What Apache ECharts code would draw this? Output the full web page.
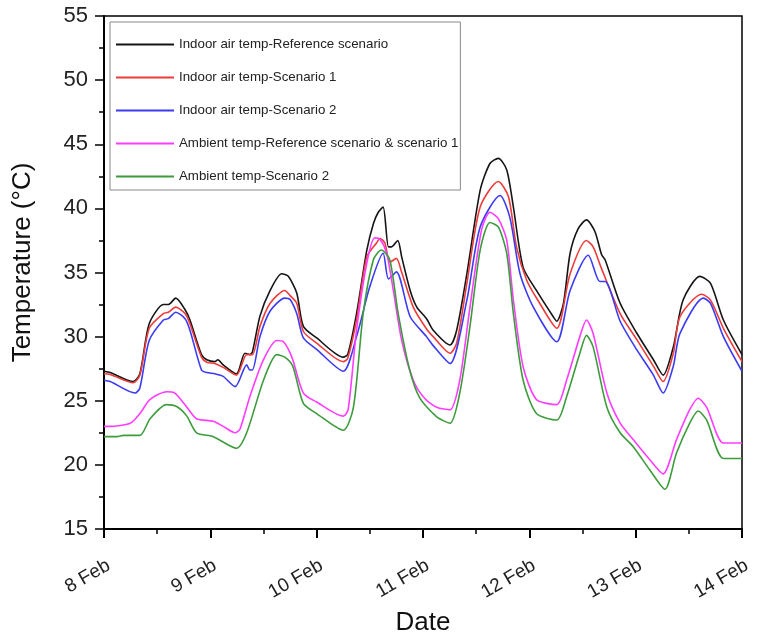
<!DOCTYPE html>
<html>
<head>
<meta charset="utf-8">
<script src="https://cdn.jsdelivr.net/npm/echarts@6/dist/echarts.min.js"></script>
<style>
html,body{margin:0;padding:0;background:#fff;}
#chart{width:768px;height:641px;}
</style>
</head>
<body>
<div id="chart"></div>
<script>
// x values are hours since 8 Feb 00:00
const dayLabels = ['8 Feb','9 Feb','10 Feb','11 Feb','12 Feb','13 Feb','14 Feb'];
const seriesNames = [
  'Indoor air temp-Reference scenario',
  'Indoor air temp-Scenario 1',
  'Indoor air temp-Scenario 2',
  'Ambient temp-Reference scenario & scenario 1',
  'Ambient temp-Scenario 2'
];

const refHours = [0,1.4,6.6,8.1,10.2,13.4,14.5,16.2,18.3,19.4,22,23.2,25,25.7,26.9,29.9,31.8,32.9,33.5,35.2,37.5,40.1,41.6,43.5,45,48,54,55,57,59.3,60.8,61.9,63,64.2,64.9,66.3,67.2,69.1,70.6,72.8,74.3,78.1,79.6,81.9,84.9,87.1,89,90.9,92.4,94.6,97.6,101.4,102.2,103.7,105.2,107,108.9,110.8,112.3,113.1,116.5,120.2,124,126.2,128.5,130.7,134.5,136.9,139.8,144];
const refTemp = [27.3,27.2,26.5,27.1,31.0,32.5,32.5,33.0,32.1,31.3,28.6,28.2,28.05,28.2,27.8,27.1,28.7,28.6,28.8,31.6,33.6,34.9,34.7,33.4,30.8,29.9,28.4,28.6,31.8,36.7,38.8,39.7,40.1,37.0,37.0,37.5,36.2,33.6,32.3,31.4,30.5,29.35,30.5,34.9,41.4,43.5,43.9,43.0,40.1,35.4,33.6,31.55,31.2,32.6,36.5,38.4,39.1,38.2,36.4,36.0,32.6,30.3,28.2,27.0,29.2,32.85,34.7,34.15,31.3,28.6];

const s1Hours = [0,1.4,6.6,8.1,10.2,13.4,14.5,16.2,18.3,19.4,22,23.2,25,26.9,29.9,32.2,33.5,35.2,37.5,40.8,42,43.5,45,48,54,55,57,59.3,61.5,62.3,63.4,64.5,66,67.2,69.8,72.8,74.3,78.1,79.6,81.9,84.9,89,91.3,93.1,95.4,98,102.2,105.2,108.9,110.4,112.3,116.5,120.2,124,126.2,128.5,130,134.9,136.9,139.8,144];
const s1Temp = [27.1,27.05,26.4,27.0,30.65,31.8,31.9,32.3,31.8,31.0,28.4,28.0,27.9,27.6,27.0,28.6,28.6,30.8,32.6,33.6,33.2,32.6,30.4,29.5,28.05,28.3,31.3,36.2,37.3,37.65,37.3,35.8,36.1,35.0,32.3,30.6,30.0,28.7,29.5,34.15,40.1,42.1,40.9,37.0,34.4,32.8,30.65,34.9,37.5,37.0,35.3,31.8,29.8,27.7,26.5,28.7,31.55,33.3,32.85,30.65,28.05];

const s2Hours = [0,1.4,7,8.1,10.2,13.4,14.5,16.2,18.3,19.4,22,23.2,25,26.9,29.6,32.2,32.9,33.5,35.2,37.5,40.8,42,43.5,45,48,54,57,60,63,64.2,66,69.1,72.8,74.3,78.1,81.9,84.9,89.4,91.6,93.9,96.9,102.2,105.2,109.3,111.9,113.1,116.5,120.2,124,126.2,128.5,130,135.3,136.9,139.8,144];
const s2Temp = [26.6,26.5,25.6,26.0,29.7,31.3,31.4,31.9,31.4,30.5,27.4,27.2,27.1,26.9,26.1,27.8,27.4,27.4,30.0,32.0,33.0,32.9,31.8,29.9,29.0,27.3,30.0,33.9,36.5,34.5,35.05,31.55,30.0,29.3,27.9,32.85,38.55,41.0,39.3,34.9,32.3,29.6,33.6,36.35,34.3,34.3,31.2,29.0,27.0,25.6,27.7,30.25,33.0,32.6,30.0,27.3];

const ambRefHours = [0,1.4,5.9,8.1,10.4,14.1,16,18.7,20.9,24.7,26.9,29.6,30.7,32.9,36,39,40.5,42.4,45,48,54,55.1,57,59.3,61.1,62.3,63.8,65.3,67.2,69.8,72.1,75.1,78.1,80.3,82.6,85.2,87.1,89,90.9,92.4,94.6,97.6,102.2,104.4,107.4,108.9,110.4,113.5,116.5,119.5,123.2,126.2,129.2,132.2,134.1,136,139.8,144];
const ambRefTemp = [23.0,23.0,23.25,24.0,25.1,25.7,25.6,24.5,23.6,23.4,23.0,22.5,22.8,25.3,28.2,29.7,29.6,28.4,25.6,24.9,23.8,24.3,30.5,35.7,37.7,37.6,36.5,33.6,29.7,26.6,25.3,24.5,24.3,26.6,32.3,38.3,39.7,39.2,37.5,32.85,27.65,25.1,24.7,26.6,30.0,31.3,30.25,25.6,23.25,21.95,20.4,19.3,21.95,24.3,25.2,24.5,21.7,21.7];

const amb2Hours = [0,2.9,4.4,8.1,10.4,14.1,16.4,18.7,20.9,24.7,29.9,32.2,36,39,40.8,42.6,45,48,54,56.3,58.5,60.8,62.6,64.5,66.4,69,71.3,75.1,78.1,80.3,82.6,84.9,87.1,89,90.9,92.4,94.6,97.6,102.2,104.4,107.4,108.9,110.4,113.5,116.5,119.5,123.2,126.6,129.2,132.2,134.1,136,139.8,144];
const amb2Temp = [22.2,22.2,22.3,22.3,23.6,24.7,24.55,23.8,22.5,22.2,21.3,22.5,26.6,28.6,28.4,27.7,24.8,24.0,22.7,24.5,31.8,36.0,36.75,36.0,31.8,27.4,25.2,23.75,23.25,25.6,30.8,36.75,38.9,38.55,36.5,31.8,26.6,24.0,23.5,25.3,28.7,30.1,29.2,24.5,22.5,21.4,19.6,18.1,20.9,23.25,24.2,23.5,20.5,20.5];

const colors = ['#151515','#ee3b3b','#3b3bf2','#ff3cff','#3c9c3c'];
const hourSets = [refHours, s1Hours, s2Hours, ambRefHours, amb2Hours];
const tempSets = [refTemp, s1Temp, s2Temp, ambRefTemp, amb2Temp];

const FONT = '"Liberation Sans", Arial, sans-serif';
const chart = echarts.init(document.getElementById('chart'), null, {renderer:'canvas'});

const series = seriesNames.map((name, i) => ({
  name: name,
  type: 'line',
  symbol: 'none',
  smooth: 0.25,
  data: hourSets[i].map((h, k) => [h, tempSets[i][k]]),
  lineStyle: {color: colors[i], width: 1.6},
  itemStyle: {color: colors[i]},
  z: 2 + i
}));

chart.setOption({
  animation: false,
  backgroundColor: '#fff',
  grid: {left: 104, right: 26, top: 16, bottom: 112, show: true, borderColor: '#000', borderWidth: 1.5, backgroundColor: 'transparent'},
  legend: {
    orient: 'vertical',
    left: 110, top: 22,
    itemWidth: 58, itemHeight: 14, itemGap: 20,
    padding: [16, 2, 7, 5],
    borderColor: '#888', borderWidth: 1,
    backgroundColor: '#fff',
    itemStyle: {opacity: 0},
    lineStyle: {width: 2},
    textStyle: {fontFamily: FONT, fontSize: 13.3, color: '#222'},
    data: seriesNames
  },
  xAxis: {
    type: 'value', min: 0, max: 144, interval: 24,
    name: 'Date', nameLocation: 'middle', nameGap: 81,
    nameTextStyle: {fontFamily: FONT, fontSize: 26, color: '#111'},
    axisLine: {show: true, lineStyle: {color: '#000', width: 2}},
    axisTick: {show: true, inside: false, length: 9, lineStyle: {color: '#000', width: 2}},
    minorTick: {show: true, splitNumber: 2, length: 5, lineStyle: {color: '#000', width: 1.5}},
    splitLine: {show: false},
    axisLabel: {
      rotate: 30, margin: 27, align: 'right', verticalAlign: 'top',
      fontFamily: FONT, fontSize: 19, color: '#222',
      formatter: v => dayLabels[Math.round(v / 24)] || ''
    }
  },
  yAxis: {
    type: 'value', min: 15, max: 55, interval: 5,
    name: 'Temperature (°C)', nameLocation: 'middle', nameGap: 68, nameRotate: 90,
    nameTextStyle: {fontFamily: FONT, fontSize: 26, color: '#111', padding: [0, 0, 0, 20]},
    axisLine: {show: true, lineStyle: {color: '#000', width: 2}},
    axisTick: {show: true, inside: false, length: 9, lineStyle: {color: '#000', width: 1.5}},
    minorTick: {show: true, splitNumber: 2, length: 5, lineStyle: {color: '#000', width: 1.5}},
    splitLine: {show: false},
    axisLabel: {margin: 16, fontFamily: FONT, fontSize: 22, color: '#222'}
  },
  series: series
});
</script>
</body>
</html>
